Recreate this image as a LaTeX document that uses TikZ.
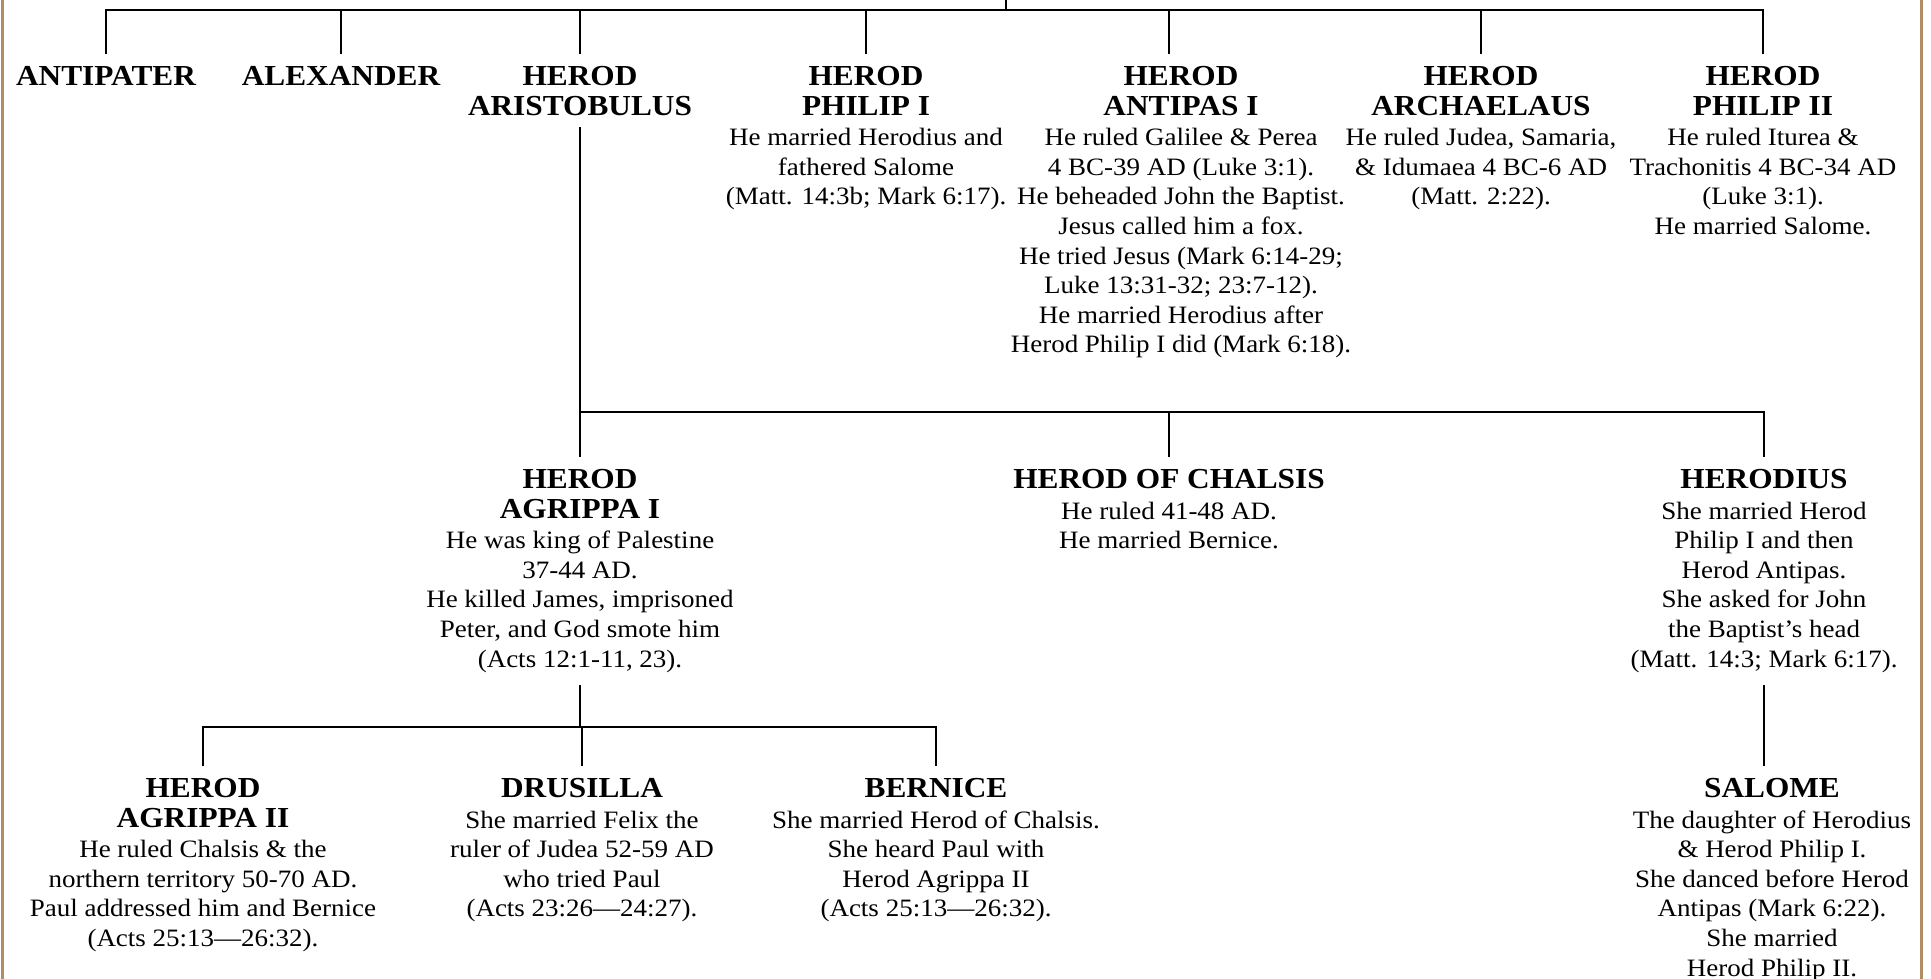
\documentclass[tikz,border=0pt]{standalone}
\usepackage{fontspec}
\setmainfont{Liberation Serif}[FakeStretch=1.08]
\definecolor{brownline}{RGB}{176,142,100}
\newcommand{\nm}[1]{{\fontsize{29}{29}\selectfont\bfseries #1}}
\begin{document}
\begin{tikzpicture}[x=1pt,y=-1pt,
	person/.style={anchor=north,align=center,inner xsep=0pt,inner ysep=12pt,font=\fontsize{25}{29.6}\selectfont},
	link/.style={line width=2pt},
	border/.style={line width=3pt,brownline}]
	    \fill[white](0,0)rectangle(1931,979);
	    \useasboundingbox(0,0)rectangle(1931,979);

	    \coordinate(root)at(1006,0);
	    \coordinate(bar1)at(0,10);
	    \coordinate(bar2)at(0,412);
	    \coordinate(bar3)at(0,727);

	    % first generation
	    \node(antipater)[person]at(106,54){\nm{ANTIPATER}};
	    \node(alexander)[person]at(341,54){\nm{ALEXANDER}};
	    \node(aristobulus)[person]at(580,54){\nm{HEROD}\\\nm{ARISTOBULUS}};
	    \node(philipI)[person]at(866,54){\nm{HEROD}\\\nm{PHILIP I}\\[1pt]He married Herodius and\\fathered Salome\\(Matt. 14:3b; Mark 6:17).};
	    \node(antipas)[person]at(1181,54){\nm{HEROD}\\\nm{ANTIPAS I}\\[1pt]He ruled Galilee \& Perea\\4 BC-39 AD (Luke 3:1).\\He beheaded John the Baptist.\\Jesus called him a fox.\\He tried Jesus (Mark 6:14-29;\\Luke 13:31-32; 23:7-12).\\He married Herodius after\\Herod Philip I did (Mark 6:18).};
	    \node(archaelaus)[person]at(1481,54){\nm{HEROD}\\\nm{ARCHAELAUS}\\[1pt]He ruled Judea, Samaria,\\\& Idumaea 4 BC-6 AD\\(Matt. 2:22).};
	    \node(philipII)[person]at(1763,54){\nm{HEROD}\\\nm{PHILIP II}\\[1pt]He ruled Iturea \&\\Trachonitis 4 BC-34 AD\\(Luke 3:1).\\He married Salome.};

	    % second generation
	    \node(agrippaI)[person]at(580,457){\nm{HEROD}\\\nm{AGRIPPA I}\\[1pt]He was king of Palestine\\37-44 AD.\\He killed James, imprisoned\\Peter, and God smote him\\(Acts 12:1-11, 23).};
	    \node(chalsis)[person]at(1169,457){\nm{HEROD OF CHALSIS}\\[1pt]He ruled 41-48 AD.\\He married Bernice.};
	    \node(herodius)[person]at(1764,457){\nm{HERODIUS}\\[1pt]She married Herod\\Philip I and then\\Herod Antipas.\\She asked for John\\the Baptist's head\\(Matt. 14:3; Mark 6:17).};

	    % third generation
	    \node(agrippaII)[person]at(203,766){\nm{HEROD}\\\nm{AGRIPPA II}\\[1pt]He ruled Chalsis \& the\\northern territory 50-70 AD.\\Paul addressed him and Bernice\\(Acts 25:13---26:32).};
	    \node(drusilla)[person]at(582,766){\nm{DRUSILLA}\\[1pt]She married Felix the\\ruler of Judea 52-59 AD\\who tried Paul\\(Acts 23:26---24:27).};
	    \node(bernice)[person]at(936,766){\nm{BERNICE}\\[1pt]She married Herod of Chalsis.\\She heard Paul with\\Herod Agrippa II\\(Acts 25:13---26:32).};
	    \node(salome)[person]at(1772,766){\nm{SALOME}\\[1pt]The daughter of Herodius\\\& Herod Philip I.\\She danced before Herod\\Antipas (Mark 6:22).\\She married\\Herod Philip II.};

	    \draw[link](root)--(root|-bar1);
	    \draw[link](antipater.north)|-(philipII.north|-bar1)--(philipII.north);
	    \foreach \p in {alexander,aristobulus,philipI,archaelaus}
	      \draw[link](\p.north)--(\p.north|-bar1);
	    \draw[link]([xshift=-12pt]antipas.north)--([xshift=-12pt]antipas.north|-bar1);

	    \draw[link](aristobulus.south)--(aristobulus.south|-bar2);
	    \draw[link](agrippaI.north)|-(herodius.north|-bar2)--(herodius.north);
	    \draw[link](chalsis.north)--(chalsis.north|-bar2);

	    \draw[link](agrippaI.south)--(agrippaI.south|-bar3);
	    \draw[link](agrippaII.north)|-(bernice.north|-bar3)--(bernice.north);
	    \draw[link](drusilla.north)--(drusilla.north|-bar3);
	    \draw[link](herodius.south)--(herodius.south|-salome.north);

	    \draw[border](2,0)--(2,979);
	    \draw[border](1921,0)--(1921,979);
\end{tikzpicture}
\end{document}
